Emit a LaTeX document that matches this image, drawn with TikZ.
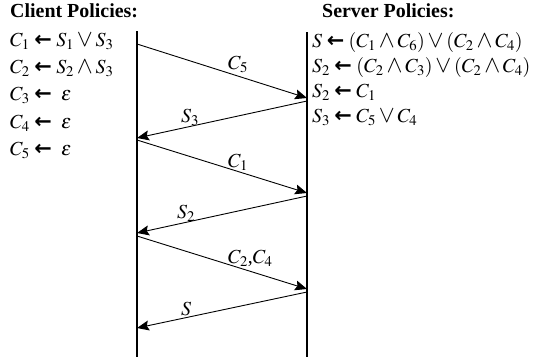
\documentclass[tikz,border=0pt]{standalone}
\usepackage{mathptmx}
\usepackage{graphicx}
\usepackage{fontspec}
\setmainfont{Liberation Serif}
\newfontfamily\arrfont{DejaVu Sans}
\usetikzlibrary{arrows.meta}
\newcommand{\la}{\mathrel{\smash{\mbox{\arrfont\bfseries\fontsize{21}{21}\selectfont ←}}}}
\newcommand{\ta}{\mathbin{\smash{\scalebox{1.2}{$\wedge$}}}}
\newcommand{\tv}{\mathbin{\smash{\scalebox{1.2}{$\vee$}}}}
\tikzset{
  title/.style={anchor=base west,inner sep=0pt,text height=13bp,text depth=1bp,font=\bfseries\fontsize{20}{22}\selectfont},
  pol/.style={anchor=base west,inner sep=0pt,text height=13bp,text depth=5bp,font=\fontsize{20}{22}\selectfont},
  life/.style={line width=1.1bp},
  msg/.style={line width=0.9bp,-{Stealth[length=12bp,width=10bp,inset=2bp]}},
  lbl/.style={anchor=base west,inner sep=0pt,text height=13bp,text depth=5bp,font=\fontsize{20}{22}\selectfont}
}
\begin{document}
\begin{tikzpicture}[x=1bp,y=-1bp]
\useasboundingbox (0,0) rectangle (534,362);
% titles
\node[title] (ct) at (10,17) {Client Policies:};
\node[title] (st) at (322,17) {Server Policies:};
% client policies
\node[pol] (c1) at (10,46) {$C_1\la S_1\tv S_3$};
\node[pol] (c2) at (10,73) {$C_2\la S_2\ta S_3$};
\node[pol] (c3) at (10,100) {$C_3\la\ \varepsilon$};
\node[pol] (c4) at (10,128) {$C_4\la\ \varepsilon$};
\node[pol] (c5) at (10,155) {$C_5\la\ \varepsilon$};
% server policies
\node[pol] (s1) at (312,47) {$S\la(C_1\ta C_6)\tv(C_2\ta C_4)$};
\node[pol] (s2) at (312,72) {$S_2\la(C_2\ta C_3)\tv(C_2\ta C_4)$};
\node[pol] (s3) at (312,97) {$S_2\la C_1$};
\node[pol] (s4) at (312,122) {$S_3\la C_5\tv C_4$};
% lifelines
\coordinate (lt) at (137,31);
\coordinate (lb) at (137,357);
\coordinate (rt) at (307,32);
\coordinate (rb) at (307,357);
\draw[life] (lt) -- (lb);
\draw[life] (rt) -- (rb);
% message points
\coordinate (a1) at (137,44);  \coordinate (b1) at (307,98);
\coordinate (b2) at (307,101); \coordinate (a2) at (137,138);
\coordinate (a3) at (137,140); \coordinate (b3) at (307,193);
\coordinate (b4) at (307,196); \coordinate (a4) at (137,233);
\coordinate (a5) at (137,236); \coordinate (b5) at (307,289);
\coordinate (b6) at (307,292); \coordinate (a6) at (137,328);
\draw[msg] (a1) -- (b1);
\draw[msg] (b2) -- (a2);
\draw[msg] (a3) -- (b3);
\draw[msg] (b4) -- (a4);
\draw[msg] (a5) -- (b5);
\draw[msg] (b6) -- (a6);
% labels
\node[lbl] (l1) at (228,69) {$C_5$};
\node[lbl] (l2) at (181,122) {$S_3$};
\node[lbl] (l3) at (228,167) {$C_1$};
\node[lbl] (l4) at (177,218) {$S_2$};
\node[lbl] (l5) at (228,263) {$C_2$,$C_4$};
\node[lbl] (l6) at (181,315) {$S$};
\end{tikzpicture}
\end{document}
